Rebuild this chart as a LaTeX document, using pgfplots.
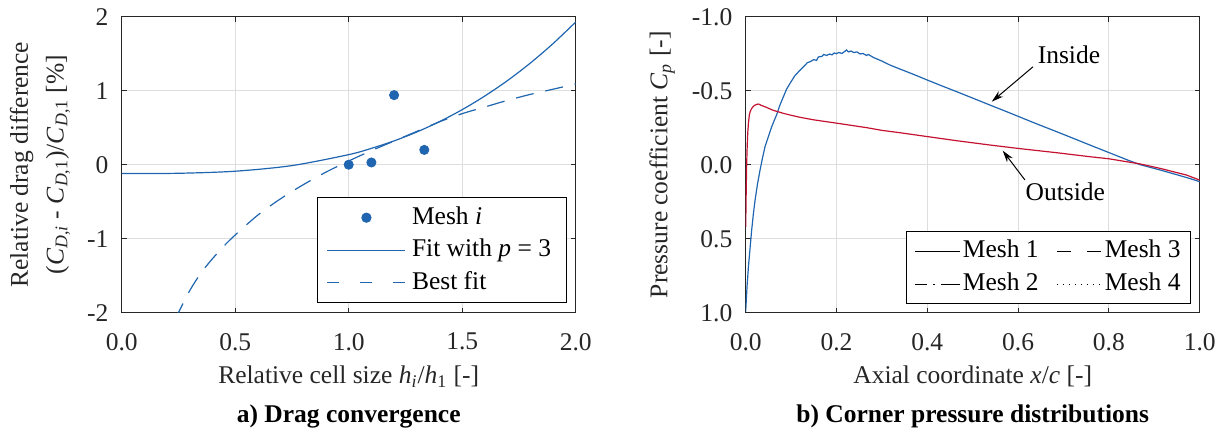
\documentclass[border=0pt]{standalone}
\usepackage{fontspec}
\setmainfont{Liberation Serif}
\usepackage{pgfplots}
\pgfplotsset{compat=1.18}
\usetikzlibrary{arrows.meta}
\definecolor{mblue}{RGB}{31,101,176}
\definecolor{mred}{RGB}{196,18,48}
\definecolor{axgray}{gray}{0.15}
\definecolor{gridgray}{gray}{0.87}
\pgfplotsset{
  every axis title shift=0pt,
  mystyle/.style={
    scale only axis, width=227bp, height=148bp, anchor=south west,
    axis line style={axgray, line width=0.5bp},
    every tick/.style={axgray, line width=0.5bp},
    major tick length=2.5bp,
    tick align=inside,
    grid=major, major grid style={gridgray, line width=0.5bp},
    /pgf/number format/assume math mode=true,
    tick label style={text=axgray},
    xticklabel style={anchor=center, yshift=-14.5bp},
    yticklabel style={anchor=east, inner sep=0pt, xshift=-6.5bp},
    label style={text=axgray},
    xlabel style={at={(axis description cs:0.5,-0.216)}, anchor=center},
    title style={at={(axis description cs:0.5,-0.351)}, anchor=center, font=\fontsize{12.8}{15.4}\selectfont\bfseries, text=black},
    legend cell align=left,
  },
  markleg/.style={legend image code/.code={\draw[mark repeat=2,mark phase=2,##1] plot coordinates {(0bp,0bp) (19.5bp,0bp) (39bp,0bp)};}},
  lineleg/.style={legend image code/.code={\draw[##1] (0bp,0bp) -- (39bp,0bp);}},
  dashleg/.style={legend image code/.code={\draw[##1, dash pattern=on 6bp off 10.5bp] (0bp,0bp) -- (39bp,0bp);}},
  shortleg/.style={legend image code/.code={\draw[##1, line width=0.5bp] (0bp,0bp) -- (22.5bp,0bp);}},
}
\begin{document}
\begin{tikzpicture}[font=\fontsize{12.8}{15.4}\selectfont]
\useasboundingbox (0,0) rectangle (611bp,216.5bp);
%% ---------------- left panel ----------------
\begin{axis}[mystyle, at={(60.85bp,60.15bp)},
  xmin=0, xmax=2, ymin=-2, ymax=2,
  xtick={0,0.5,1,1.5,2}, ytick={-2,-1,0,1,2},
  xticklabel style={/pgf/number format/.cd, fixed, fixed zerofill, precision=1},
  xlabel={Relative cell size \textit{h}\textsubscript{\textit{i}}/\textit{h}\textsubscript{1} [-]},
  ylabel={Relative drag difference\\(\textit{C}\textsubscript{\textit{D},\textit{i}} - \textit{C}\textsubscript{\textit{D},1})/\textit{C}\textsubscript{\textit{D},1} [\%]},
  ylabel style={at={(axis description cs:-0.180,0.5)}, anchor=center, align=center, font=\fontsize{12.8}{18}\selectfont},
  title={a) Drag convergence},
  legend style={draw=black, line width=0.5bp, at={(0.980,0.032)}, anchor=south east,
    inner xsep=4.5bp, inner ysep=1.9bp, row sep=0bp, font=\fontsize{12.8}{15.4}\selectfont,
    nodes={inner xsep=3bp, inner ysep=1.875bp, text height=9.5bp, text depth=3bp}},
]
\addplot[only marks, mark=*, mark size=2.3bp, color=mblue, markleg]
  coordinates {(1.0,0.0) (1.1,0.03) (1.2,0.94) (1.333,0.2)};
\addlegendentry{Mesh \textit{i}}
\addplot[mblue, line width=0.6bp, smooth, lineleg]
  coordinates {
  (0.00,-0.120) (0.25,-0.116) (0.50,-0.088) (0.75,-0.012) (1.00,0.136)
  (1.10,0.221) (1.20,0.322) (1.30,0.442) (1.40,0.582) (1.50,0.744)
  (1.60,0.929) (1.70,1.138) (1.80,1.373) (1.90,1.636) (2.00,1.928)};
\addlegendentry{Fit with \textit{p} = 3}
\addplot[mblue, line width=0.6bp, smooth, dash pattern=on 9bp off 6bp, dashleg]
  coordinates {
  (0.24,-2.10) (0.25,-2.00) (0.30,-1.70) (0.35,-1.46) (0.40,-1.27) (0.45,-1.10)
  (0.50,-0.95) (0.60,-0.68) (0.70,-0.46) (0.80,-0.27) (0.90,-0.10) (1.00,0.05)
  (1.10,0.19) (1.20,0.32) (1.30,0.45) (1.40,0.58) (1.50,0.69) (1.60,0.78)
  (1.70,0.87) (1.80,0.95) (1.90,1.02) (2.00,1.09)};
\addlegendentry{Best fit}
\end{axis}
%% ---------------- right panel ----------------
\begin{axis}[mystyle, at={(372.85bp,60.15bp)},
  xmin=0, xmax=1, ymin=-1, ymax=1, y dir=reverse,
  xtick={0,0.2,0.4,0.6,0.8,1}, ytick={-1,-0.5,0,0.5,1},
  xticklabel style={/pgf/number format/.cd, fixed, fixed zerofill, precision=1},
  yticklabel style={/pgf/number format/.cd, fixed, fixed zerofill, precision=1},
  xlabel={Axial coordinate \textit{x}/\textit{c} [-]},
  ylabel={Pressure coefficient \textit{C}\textsubscript{\textit{p}} [-]},
  ylabel style={at={(axis description cs:-0.184,0.5)}, anchor=center},
  title={b) Corner pressure distributions},
  legend columns=2,
  legend style={draw=black, line width=0.5bp, at={(0.981,0.029)}, anchor=south east,
    inner xsep=4bp, inner ysep=1.5bp, row sep=0bp, font=\fontsize{12.8}{15.4}\selectfont,
    nodes={inner xsep=1bp, inner ysep=2bp, text height=9.5bp, text depth=3bp},
    /tikz/every even column/.append style={column sep=8bp}},
]
% inside (blue)
\addplot[mblue, line width=0.6bp, forget plot] coordinates {
  (0.000,0.99) (0.003,0.82) (0.006,0.69) (0.010,0.55) (0.0132,0.44) (0.017,0.33)
  (0.0206,0.24) (0.026,0.13) (0.0316,0.036) (0.037,-0.045) (0.0426,-0.122)
  (0.050,-0.19) (0.0573,-0.257) (0.063,-0.30) (0.068,-0.336) (0.075,-0.40)
  (0.083,-0.459) (0.090,-0.51) (0.0977,-0.55) (0.108,-0.60) (0.120,-0.64)
  (0.130,-0.67) (0.136,-0.69) (0.142,-0.696) (0.150,-0.71) (0.156,-0.705) (0.160,-0.728)
  (0.168,-0.732) (0.172,-0.745) (0.178,-0.738) (0.185,-0.748) (0.190,-0.742) (0.195,-0.755)
  (0.200,-0.750) (0.205,-0.758) (0.212,-0.752) (0.218,-0.765) (0.222,-0.775) (0.226,-0.762)
  (0.232,-0.768) (0.238,-0.758) (0.245,-0.762) (0.252,-0.748) (0.258,-0.752) (0.266,-0.738)
  (0.270,-0.745) (0.281,-0.725) (0.300,-0.700) (0.318,-0.673) (0.340,-0.646) (0.370,-0.61)
  (0.400,-0.572) (0.430,-0.535) (0.465,-0.493) (0.500,-0.450) (0.538,-0.403)
  (0.570,-0.364) (0.600,-0.327) (0.640,-0.277) (0.685,-0.223) (0.720,-0.180)
  (0.758,-0.133) (0.800,-0.082) (0.840,-0.033) (0.869,0.000) (0.913,0.036)
  (0.950,0.068) (0.980,0.095) (1.000,0.115)};
% outside (red)
\addplot[mred, line width=0.6bp, forget plot] coordinates {
  (0.000,0.42) (0.001,0.20) (0.002,0.014) (0.003,-0.10) (0.0044,-0.21) (0.006,-0.28)
  (0.008,-0.336) (0.010,-0.36) (0.0132,-0.38) (0.017,-0.395) (0.0206,-0.403)
  (0.025,-0.408) (0.028,-0.41) (0.035,-0.40) (0.046,-0.387) (0.060,-0.368)
  (0.083,-0.347) (0.100,-0.334) (0.120,-0.32) (0.150,-0.303) (0.193,-0.284)
  (0.230,-0.267) (0.267,-0.25) (0.300,-0.232) (0.340,-0.216) (0.400,-0.19)
  (0.465,-0.162) (0.538,-0.133) (0.600,-0.11) (0.685,-0.081) (0.758,-0.054)
  (0.800,-0.040) (0.869,-0.005) (0.913,0.025) (0.971,0.07) (1.000,0.104)};
\addlegendimage{black, solid, shortleg}
\addlegendentry{Mesh 1}
\addlegendimage{black, dash pattern=on 7bp off 8bp, shortleg}
\addlegendentry{Mesh 3}
\addlegendimage{black, dash pattern=on 6bp off 3bp on 1bp off 3bp on 9.5bp off 1bp, shortleg}
\addlegendentry{Mesh 2}
\addlegendimage{black, dash pattern=on 0.6bp off 2.4bp, shortleg}
\addlegendentry{Mesh 4}
\node[text=black] at (axis cs:0.712,-0.741) {Inside};
\draw[black, line width=0.5bp, -{Stealth[length=6bp,width=3.5bp]}] (axis cs:0.633,-0.662) -- (axis cs:0.542,-0.426);
\node[text=black] at (axis cs:0.704,0.182) {Outside};
\draw[black, line width=0.5bp, -{Stealth[length=6bp,width=3.5bp]}] (axis cs:0.615,0.103) -- (axis cs:0.566,-0.095);
\end{axis}
\end{tikzpicture}
\end{document}
